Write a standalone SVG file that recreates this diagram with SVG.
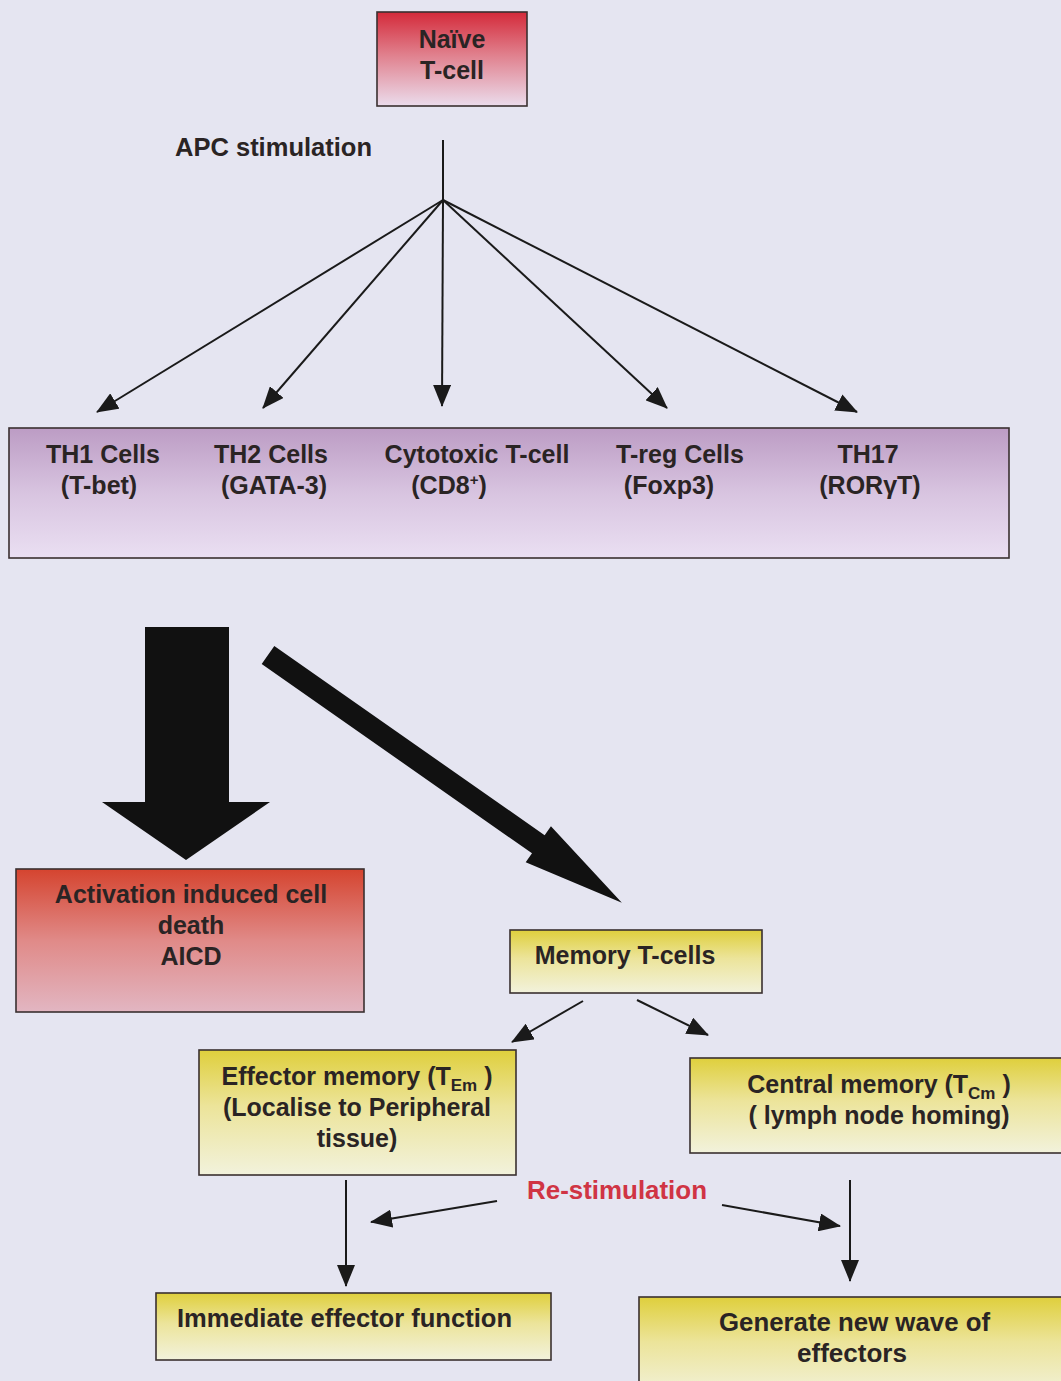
<svg xmlns="http://www.w3.org/2000/svg" width="1061" height="1381" viewBox="0 0 1061 1381">
<defs>
<linearGradient id="gRed" x1="0" y1="0" x2="0" y2="1">
<stop offset="0" stop-color="#d42a3a"/><stop offset="0.45" stop-color="#e07f8c"/><stop offset="1" stop-color="#ebdcec"/>
</linearGradient>
<linearGradient id="gAicd" x1="0" y1="0" x2="0" y2="1">
<stop offset="0" stop-color="#d5442f"/><stop offset="0.5" stop-color="#e08a88"/><stop offset="1" stop-color="#e2b6c2"/>
</linearGradient>
<linearGradient id="gPurple" x1="0" y1="0" x2="0" y2="1">
<stop offset="0" stop-color="#bc9cc4"/><stop offset="0.5" stop-color="#d8c4e0"/><stop offset="1" stop-color="#eadff2"/>
</linearGradient>
<linearGradient id="gYellow" x1="0" y1="0" x2="0" y2="1">
<stop offset="0" stop-color="#dfcf3c"/><stop offset="0.45" stop-color="#ece49a"/><stop offset="1" stop-color="#f2f2dc"/>
</linearGradient>
<marker id="ah" markerUnits="userSpaceOnUse" markerWidth="22" markerHeight="18" refX="21" refY="9" orient="auto">
<path d="M0,0 L22,9 L0,18 z" fill="#1a1a1a"/>
</marker>
<style>
.box{stroke:#3a3030;stroke-width:1.6}
.t{font-family:"Liberation Sans",Arial,sans-serif;font-weight:bold;font-size:25px;fill:#2a2424;text-anchor:middle}
.c{font-family:"Liberation Sans",Arial,sans-serif;font-weight:bold;font-size:26px;fill:#2a2424}
.ln{stroke:#1a1a1a;stroke-width:2;fill:none;marker-end:url(#ah)}
.sub{font-size:17px}
</style>
</defs>
<rect width="1061" height="1381" fill="#e5e5f1"/>

<g id="connectors">
<line x1="443" y1="140" x2="443" y2="200" stroke="#1a1a1a" stroke-width="2"/>
<line class="ln" x1="443" y1="200" x2="97" y2="412"/>
<line class="ln" x1="443" y1="200" x2="263" y2="408"/>
<line class="ln" x1="443" y1="200" x2="442" y2="406"/>
<line class="ln" x1="443" y1="200" x2="667" y2="408"/>
<line class="ln" x1="443" y1="200" x2="857" y2="412"/>
<polygon points="145,627 229,627 229,802 270,802 186,860 102,802 145,802" fill="#111"/>
<g transform="translate(268,655) rotate(35)">
<polygon points="0,-11 330,-11 330,-22 432,0 330,22 330,11 0,11" fill="#111"/>
</g>
<line class="ln" x1="583" y1="1001" x2="512" y2="1042"/>
<line class="ln" x1="637" y1="1000" x2="708" y2="1035"/>
<line class="ln" x1="497" y1="1201" x2="371" y2="1222"/>
<line class="ln" x1="722" y1="1205" x2="840" y2="1226"/>
<line class="ln" x1="346" y1="1180" x2="346" y2="1286"/>
<line class="ln" x1="850" y1="1180" x2="850" y2="1281"/>
</g>

<g id="naive">
<rect class="box" x="377" y="12" width="150" height="94" fill="url(#gRed)"/>
<text class="t" x="452" y="48">Naïve</text>
<text class="t" x="452" y="79">T-cell</text>
</g>

<g id="apc-label">
<text class="c" x="175" y="156" textLength="197" lengthAdjust="spacingAndGlyphs">APC stimulation</text>
</g>

<g id="subsets">
<rect class="box" x="9" y="428" width="1000" height="130" fill="url(#gPurple)"/>
<text class="t" x="103" y="463">TH1 Cells</text>
<text class="t" x="99" y="494">(T-bet)</text>
<text class="t" x="271" y="463">TH2 Cells</text>
<text class="t" x="274" y="494">(GATA-3)</text>
<text class="t" x="477" y="463">Cytotoxic T-cell</text>
<text class="t" x="449" y="494">(CD8<tspan font-size="15" dy="-9">+</tspan><tspan dy="9">)</tspan></text>
<text class="t" x="680" y="463">T-reg Cells</text>
<text class="t" x="669" y="494">(Foxp3)</text>
<text class="t" x="868" y="463">TH17</text>
<text class="t" x="870" y="494">(RORγT)</text>
</g>

<g id="aicd">
<rect class="box" x="16" y="869" width="348" height="143" fill="url(#gAicd)"/>
<text class="t" x="191" y="903">Activation induced cell</text>
<text class="t" x="191" y="934">death</text>
<text class="t" x="191" y="965">AICD</text>
</g>

<g id="memory">
<rect class="box" x="510" y="930" width="252" height="63" fill="url(#gYellow)"/>
<text class="t" x="625" y="964">Memory T-cells</text>
</g>

<g id="effector-memory">
<rect class="box" x="199" y="1050" width="317" height="125" fill="url(#gYellow)"/>
<text class="t" x="357" y="1085">Effector memory (T<tspan class="sub" dy="6">Em</tspan><tspan dy="-6"> )</tspan></text>
<text class="t" x="357" y="1116">(Localise to Peripheral</text>
<text class="t" x="357" y="1147">tissue)</text>
</g>

<g id="central-memory">
<rect class="box" x="690" y="1058" width="380" height="95" fill="url(#gYellow)"/>
<text class="t" x="879" y="1093">Central memory (T<tspan class="sub" dy="6">Cm</tspan><tspan dy="-6"> )</tspan></text>
<text class="t" x="879" y="1124">( lymph node homing)</text>
</g>

<g id="restim-label">
<text class="c" x="527" y="1199" fill="#d03444" style="fill:#d03444" textLength="180" lengthAdjust="spacingAndGlyphs">Re-stimulation</text>
</g>

<g id="immediate">
<rect class="box" x="156" y="1293" width="395" height="67" fill="url(#gYellow)"/>
<text class="c" x="177" y="1327" textLength="335" lengthAdjust="spacingAndGlyphs">Immediate effector function</text>
</g>

<g id="new-wave">
<rect class="box" x="639" y="1297" width="430" height="100" fill="url(#gYellow)"/>
<text class="c" x="719" y="1331" textLength="271" lengthAdjust="spacingAndGlyphs">Generate new wave of</text>
<text class="c" x="797" y="1362" textLength="110" lengthAdjust="spacingAndGlyphs">effectors</text>
</g>
</svg>
